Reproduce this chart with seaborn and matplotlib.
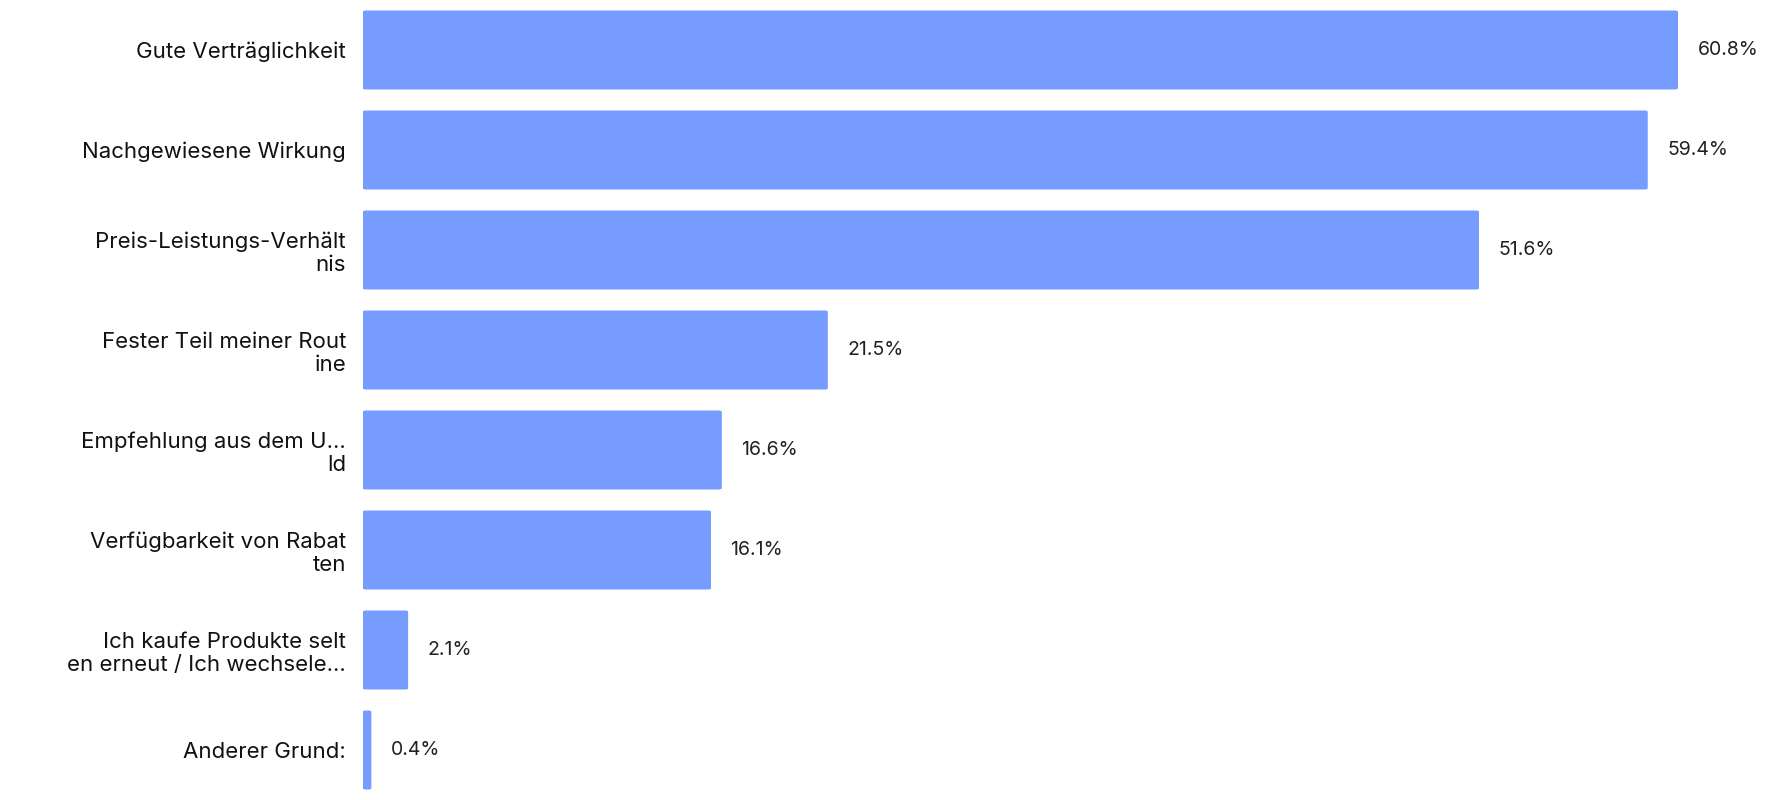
import matplotlib
matplotlib.use("Agg")
import matplotlib.pyplot as plt
import seaborn as sns
import pandas as pd
from matplotlib.patches import FancyBboxPatch

categories = [
    "Gute Verträglichkeit",
    "Nachgewiesene Wirkung",
    "Preis-Leistungs-Verhält\nnis",
    "Fester Teil meiner Rout\nine",
    "Empfehlung aus dem U...\nld",
    "Verfügbarkeit von Rabat\nten",
    "Ich kaufe Produkte selt\nen erneut / Ich wechsele...",
    "Anderer Grund:",
]
values = [60.8, 59.4, 51.6, 21.5, 16.6, 16.1, 2.1, 0.4]
bar_color = "#779CFF"

sns.set_theme(style="white")
plt.rcParams['font.family'] = ['Inter', 'DejaVu Sans']

df = pd.DataFrame({"cat": categories, "val": values})
fig = plt.figure(figsize=(17.78, 8), dpi=100)
ax = fig.add_axes([0.204, 0.0, 0.786, 1.0])
sns.barplot(data=df, y="cat", x="val", color=bar_color, width=0.79,
            saturation=1, ax=ax, orient="h")

# replace square bars with rounded ones
for p in list(ax.patches):
    x0, y0 = p.get_x(), p.get_y()
    w, h = p.get_width(), p.get_height()
    p.remove()
    ax.add_patch(FancyBboxPatch((x0, y0), w, h,
                                boxstyle="round,pad=0,rounding_size=0.15",
                                mutation_aspect=1 / 12,
                                facecolor=bar_color, edgecolor="none"))

for i, v in enumerate(values):
    ax.text(v + 0.9, i, f"{v}%", va="center", ha="left", fontsize=14, color="#222222")

ax.set_xlim(0, 64.6)
ax.set_ylim(len(values) - 0.5, -0.5)
ax.set_xlabel("")
ax.set_ylabel("")
ax.set_xticks([])
ax.tick_params(axis="y", length=0, pad=12, labelsize=16, labelcolor="#111111")
for s in ax.spines.values():
    s.set_visible(False)

fig.savefig("out.png", dpi=100)
